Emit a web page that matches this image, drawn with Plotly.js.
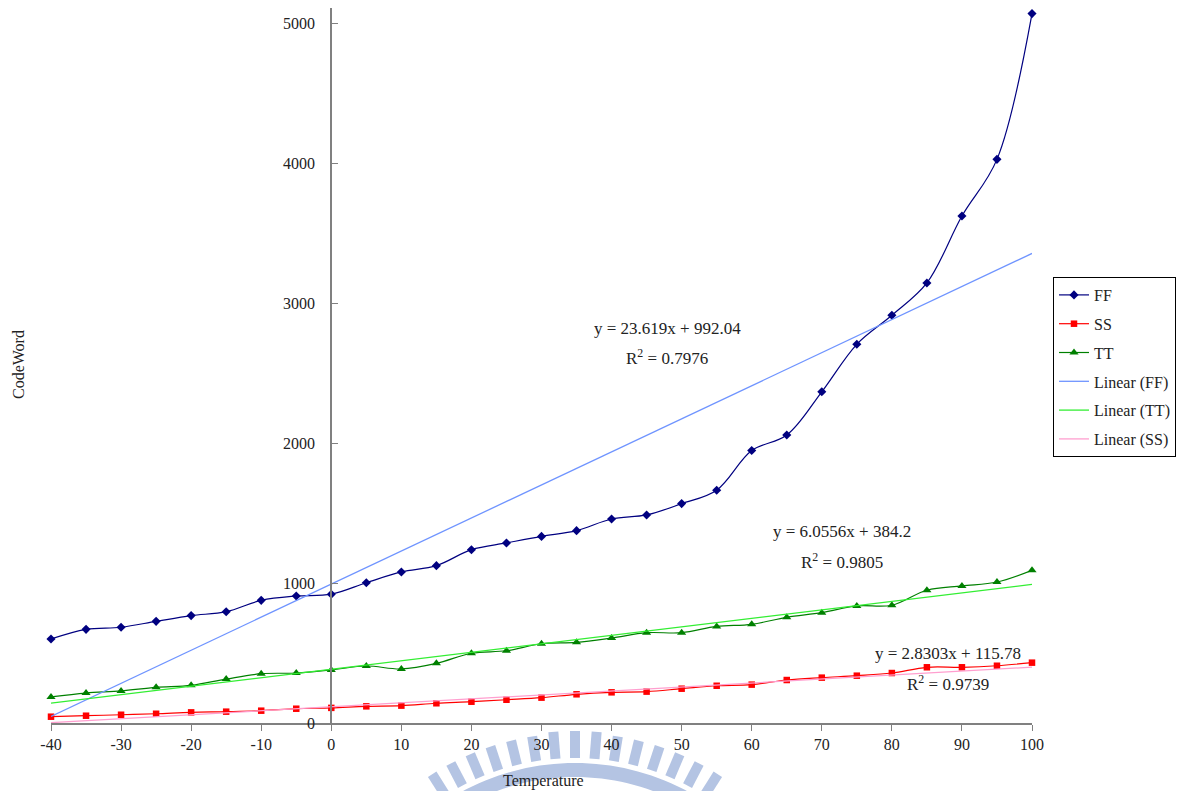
<!DOCTYPE html>
<html>
<head>
<meta charset="utf-8">
<script src="https://cdn.plot.ly/plotly-3.0.1.min.js"></script>
<style>
html,body{margin:0;padding:0;background:#fff;}
#chart{width:1178px;height:791px;}
</style>
</head>
<body>
<div id="chart"></div>
<script>
// ---- data ----
const temperature = [-40,-35,-30,-25,-20,-15,-10,-5,0,5,10,15,20,25,30,35,40,45,50,55,60,65,70,75,80,85,90,95,100];
const FF = [600,669,684,726,767,795,876,907,920,1002,1079,1124,1238,1286,1333,1374,1457,1486,1567,1663,1946,2057,2366,2705,2912,3143,3621,4026,5067];
const SS = [45,52,59,66,76,81,88,102,108,119,124,141,152,166,181,205,219,224,245,266,274,307,324,338,357,398,398,409,431];
const TT = [186,214,229,255,269,314,352,357,379,407,386,426,498,516,566,576,607,645,645,690,705,755,788,836,841,948,979,1007,1091];
const trendNames = ["FF","TT","SS"];
const trendSlope = [23.619, 6.0556, 2.8303];
const trendIntercept = [992.04, 384.2, 115.78];
const trendR2 = ["0.7976","0.9805","0.9739"];
const xTicks = [-40,-30,-20,-10,0,10,20,30,40,50,60,70,80,90,100];
const yTicks = [0,1000,2000,3000,4000,5000];

// ---- layout geometry (pixels) ----
const W = 1178, H = 791;
const M = {l:51, r:146, t:8, b:68};
const PW = W - M.l - M.r, PH = H - M.t - M.b;
const px2x = p => (p - M.l) / PW;
const px2y = p => (H - M.b - p) / PH;
const FONT = "Liberation Serif, Times New Roman, serif";

const xmin = Math.min(...temperature), xmax = Math.max(...temperature);
const trendX = [xmin, xmax];
const trendColors = {FF:"#6f94ff", TT:"#33ee33", SS:"#ff9fcf"};

const traces = [
  {x:temperature, y:FF, name:"FF", type:"scatter", mode:"lines+markers", cliponaxis:false,
   line:{color:"#000080", width:1.2, shape:"spline", smoothing:1},
   marker:{symbol:"diamond", size:7, color:"#000080"}, legendgroup:"a"},
  {x:temperature, y:SS, name:"SS", type:"scatter", mode:"lines+markers", cliponaxis:false,
   line:{color:"#ff0000", width:1.2, shape:"spline", smoothing:1},
   marker:{symbol:"square", size:6.5, color:"#ff0000"}, legendgroup:"b"},
  {x:temperature, y:TT, name:"TT", type:"scatter", mode:"lines+markers", cliponaxis:false,
   line:{color:"#008000", width:1.2, shape:"spline", smoothing:1},
   marker:{symbol:"triangle-up", size:8, color:"#008000"}, legendgroup:"c"}
];
const trendGroups = ["d","e","f"];
trendNames.forEach((n,i)=>{
  traces.push({x:trendX, y:trendX.map(t=>trendSlope[i]*t+trendIntercept[i]),
    name:"Linear ("+n+")", type:"scatter", mode:"lines", cliponaxis:false,
    line:{color:trendColors[n], width:1.3}, legendgroup:trendGroups[i]});
});

// equation labels (pixel centres)
const eqPos = [[667,328,357],[842,532,561],[948,653,683]];
const annotations = [];
trendNames.forEach((n,i)=>{
  const s = trendIntercept[i] >= 0 ? " + " : " - ";
  annotations.push({xref:"paper", yref:"paper", x:px2x(eqPos[i][0]), y:px2y(eqPos[i][1]),
    text:"y = "+trendSlope[i]+"x"+s+Math.abs(trendIntercept[i]), showarrow:false,
    font:{family:FONT, size:17, color:"#222"}, xanchor:"center", yanchor:"middle"});
  annotations.push({xref:"paper", yref:"paper", x:px2x(eqPos[i][0]), y:px2y(eqPos[i][2]),
    text:"R<sup>2</sup> = "+trendR2[i], showarrow:false,
    font:{family:FONT, size:17, color:"#222"}, xanchor:"center", yanchor:"middle"});
});
annotations.push({xref:"paper", yref:"paper", x:px2x(543), y:px2y(781), text:"Temperature",
  showarrow:false, font:{family:FONT, size:16, color:"#222"}, xanchor:"center", yanchor:"middle"});
annotations.push({xref:"paper", yref:"paper", x:px2x(18), y:px2y(365), text:"CodeWord",
  showarrow:false, textangle:-90, font:{family:FONT, size:16, color:"#222"}, xanchor:"center", yanchor:"middle"});

// faint watermark (decorative)
const shapes = [];
const wc = {x:575, y:1001};
const toP = (r,th,off) => {
  const px = wc.x + r*Math.sin(th) + off*Math.cos(th);
  const py = wc.y - r*Math.cos(th) + off*Math.sin(th);
  return px2x(px).toFixed(5)+","+px2y(py).toFixed(5);
};
const wmColor = "rgba(180,196,227,1)";
for(let k=-7;k<=7;k++){
  const th = k*4.6*Math.PI/180;
  const r1 = 243, r2 = 268 + (Math.abs(k)<=1 ? 2 : 0);
  const path = "M"+toP(r1,th,-5)+" L"+toP(r2,th,-5)+" L"+toP(r2,th,5)+" L"+toP(r1,th,5)+" Z";
  shapes.push({type:"path", xref:"paper", yref:"paper", path:path, fillcolor:wmColor, line:{width:0}, layer:"below"});
}
{
  let pts = [];
  const a0 = -34*Math.PI/180, a1 = 34*Math.PI/180;
  for(let i=0;i<=40;i++){ const th=a0+(a1-a0)*i/40; pts.push(toP(238,th,0)); }
  for(let i=40;i>=0;i--){ const th=a0+(a1-a0)*i/40; pts.push(toP(224,th,0)); }
  shapes.push({type:"path", xref:"paper", yref:"paper", path:"M"+pts.join(" L")+" Z", fillcolor:wmColor, line:{width:0}, layer:"below"});
}

const layout = {
  width:W, height:H,
  margin:{l:M.l, r:M.r, t:M.t, b:M.b, pad:0, autoexpand:false},
  paper_bgcolor:"#fff", plot_bgcolor:"#fff",
  font:{family:FONT, size:16, color:"#222"},
  showlegend:true,
  legend:{x:px2x(1053), y:px2y(277), xanchor:"left", yanchor:"top",
    bgcolor:"#fff", bordercolor:"#000", borderwidth:1,
    font:{family:FONT, size:16, color:"#222"}, tracegroupgap:5, itemwidth:30},
  xaxis:{range:[xmin, xmax], tickvals:xTicks, ticktext:xTicks.map(String),
    showgrid:false, zeroline:false, showline:true, linecolor:"#808080", linewidth:2,
    ticks:"outside", ticklen:6, tickcolor:"#808080", tickwidth:1,
    tickfont:{family:FONT, size:16, color:"#222"}, automargin:false, fixedrange:true},
  yaxis:{range:[0, PH/0.14], tickvals:yTicks, ticktext:yTicks.map(String),
    anchor:"free", position:(0 - xmin)/(xmax - xmin), side:"left",
    showgrid:false, zeroline:false, showline:true, linecolor:"#808080", linewidth:2,
    ticks:"inside", ticklen:6, tickcolor:"#808080", tickwidth:1, ticklabelstandoff:12,
    tickfont:{family:FONT, size:16, color:"#222"}, automargin:false, fixedrange:true},
  annotations:annotations,
  shapes:shapes
};
Plotly.newPlot("chart", traces, layout, {displayModeBar:false, staticPlot:true});
</script>
</body>
</html>
